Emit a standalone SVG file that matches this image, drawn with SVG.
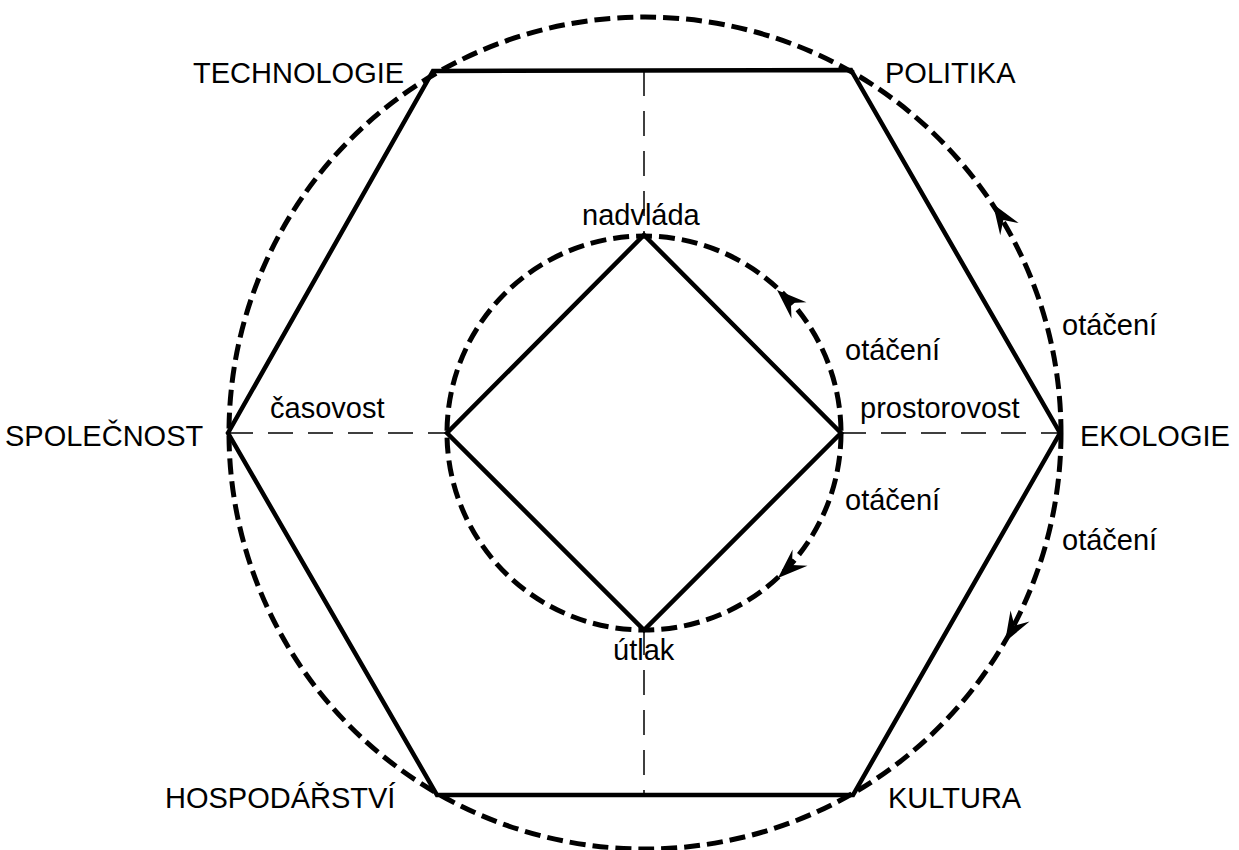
<svg xmlns="http://www.w3.org/2000/svg" width="1239" height="850" viewBox="0 0 1239 850">
<style>
.bg{fill:#fff}
.solid{fill:none;stroke:#000;stroke-width:4.5;stroke-linejoin:miter}
.circ{fill:none;stroke:#000;stroke-width:5;stroke-dasharray:16 7}
.thin{fill:none;stroke:#000;stroke-width:1.5;stroke-dasharray:25 15}
text{font-family:"Liberation Sans",Arial,sans-serif;font-size:29px;fill:#000}
.arr{fill:#000}
</style>
<defs>
<path id="ah" d="M0,0 L-30,-11 L-19,0 L-30,11 Z"/>
</defs>
<rect class="bg" x="0" y="0" width="1239" height="850"/>
<g id="connectors">
<line class="thin" x1="644" y1="71" x2="644" y2="235"/>
<line class="thin" x1="644" y1="630" x2="644" y2="795"/>
<line class="thin" x1="228" y1="433" x2="447" y2="433"/>
<line class="thin" x1="841" y1="433" x2="1060" y2="433"/>
</g>
<g id="outer-circle">
<circle class="circ" cx="645" cy="433" r="416"/>
<use href="#ah" class="arr" transform="translate(993,204) rotate(-123.2)"/>
<use href="#ah" class="arr" transform="translate(1005,642) rotate(120.1)"/>
</g>
<g id="inner-circle">
<circle class="circ" cx="644" cy="433" r="197"/>
<use href="#ah" class="arr" transform="translate(777,290) rotate(-137.1)"/>
<use href="#ah" class="arr" transform="translate(778,578) rotate(137.3)"/>
</g>
<g id="hexagon">
<polygon class="solid" points="433,71 851,70 1060,433 853,795 437,795 228,433"/>
</g>
<g id="diamond">
<polygon class="solid" points="644,235 841,433 644,630 447,433"/>
</g>
<g id="labels">
<text id="technologie" x="193" y="83">TECHNOLOGIE</text>
<text id="politika" x="885" y="83">POLITIKA</text>
<text id="spolecnost" x="5" y="446">SPOLEČNOST</text>
<text id="ekologie" x="1080" y="446">EKOLOGIE</text>
<text id="hospodarstvi" x="165" y="808">HOSPODÁŘSTVÍ</text>
<text id="kultura" x="888" y="808">KULTURA</text>
<text id="nadvlada" x="582" y="225">nadvláda</text>
<text id="utlak" x="613" y="660">útlak</text>
<text id="casovost" x="270" y="418">časovost</text>
<text id="prostorovost" x="860" y="418">prostorovost</text>
<text id="otaceni1" x="845" y="360">otáčení</text>
<text id="otaceni2" x="845" y="510">otáčení</text>
<text id="otaceni3" x="1062" y="335">otáčení</text>
<text id="otaceni4" x="1062" y="550">otáčení</text>
</g>
</svg>
